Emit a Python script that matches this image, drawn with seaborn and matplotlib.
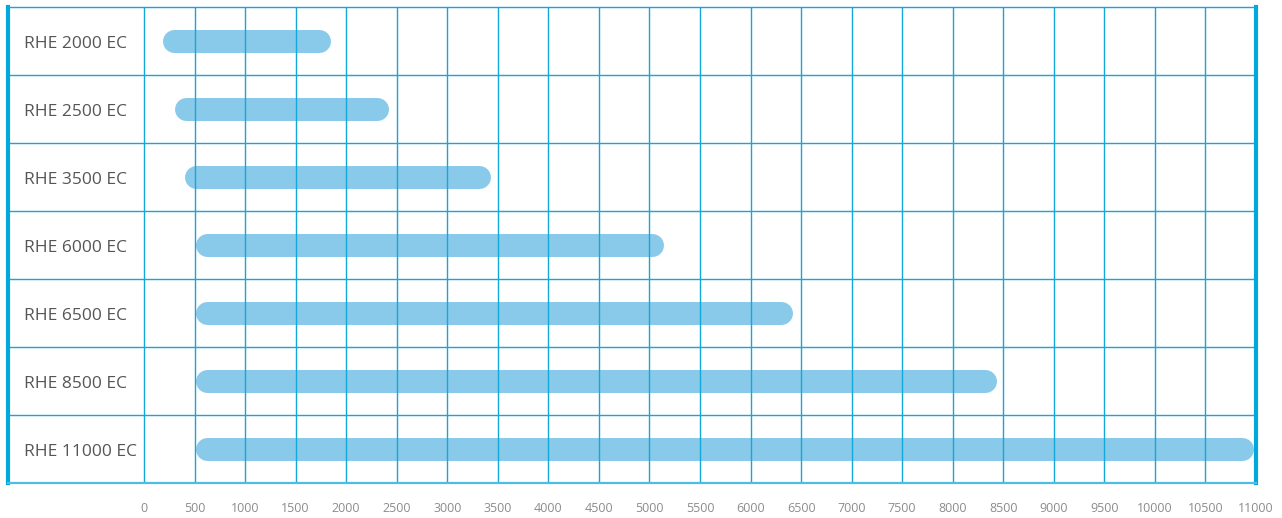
import matplotlib
matplotlib.use("Agg")
import matplotlib.pyplot as plt
import pandas as pd
import seaborn as sns

# ── data (airflow ranges per model) ────────────────────────────────────────
MODELS = ["RHE 2000 EC", "RHE 2500 EC", "RHE 3500 EC", "RHE 6000 EC",
          "RHE 6500 EC", "RHE 8500 EC", "RHE 11000 EC"]
FLOW_MIN = [180, 300, 400, 510, 510, 510, 510]
FLOW_MAX = [1850, 2420, 3430, 5140, 6420, 8430, 10980]
XTICKS = list(range(0, 11001, 500))

BAR_COLOR  = "#89c9e9"
GRID_COLOR = "#12a8d8"
EDGE_COLOR = "#00a8dc"
BAR_PX = 23          # bar thickness in pixels

sns.set_theme(style="white")
plt.rcParams["font.family"] = ["Open Sans", "DejaVu Sans"]

df = pd.DataFrame({"model": MODELS, "lo": FLOW_MIN, "hi": FLOW_MAX})
df["span"] = df["hi"] - df["lo"]

fig = plt.figure(figsize=(12.82, 5.18), dpi=100)
ax = fig.add_axes([8 / 1282, 1 - 483 / 518, 1248 / 1282, 476 / 518])

# seaborn sets up the categorical axis; bars are redrawn as pills below
sns.barplot(data=df, x="span", y="model", orient="h", color=BAR_COLOR,
            width=0.34, saturation=1, ax=ax)

ax.set_xlim(-1345, 11000)
ax.set_ylim(len(MODELS) - 0.5, -0.5)

# ── rounded bars: thick lines with round caps, inset by the cap radius ─────
fig.canvas.draw()
(x0, _), (x1, _) = ax.transData.transform([(0, 0), (1, 0)])
r = (BAR_PX / 2) / abs(x1 - x0)      # cap radius in data units
for bar in list(ax.patches):
    bar.remove()
lw_pt = BAR_PX * 72 / fig.dpi
for i, (lo, hi) in enumerate(zip(df["lo"], df["hi"])):
    ax.plot([lo + r, hi - r], [i, i], color=BAR_COLOR, lw=lw_pt,
            solid_capstyle="round", zorder=2)

# ── grid ───────────────────────────────────────────────────────────────────
ax.set_xticks(XTICKS)
ax.set_xticklabels([str(t) for t in XTICKS])
ax.grid(axis="x", color=GRID_COLOR, lw=1.0, zorder=3)
ax.set_axisbelow(False)
for i in range(len(MODELS) - 1):
    ax.axhline(i + 0.5, color=GRID_COLOR, lw=1.0, zorder=3)

for side in ("left", "right"):
    ax.spines[side].set_color(EDGE_COLOR)
    ax.spines[side].set_linewidth(3.0)
ax.spines["top"].set_color(GRID_COLOR)
ax.spines["top"].set_linewidth(1.0)
ax.spines["bottom"].set_color("#4dbde6")
ax.spines["bottom"].set_linewidth(1.6)
for s in ax.spines.values():
    s.set_zorder(4)

# ── labels ─────────────────────────────────────────────────────────────────
ax.set_xlabel(""); ax.set_ylabel("")
ax.set_yticks([])
ax.tick_params(axis="x", length=0, pad=14, labelsize=9, labelcolor="#8c8c8c")
for i, name in enumerate(MODELS):
    ax.text(-1190, i + 0.04, name, ha="left", va="center", fontsize=12.5,
            color="#555555", zorder=5)

plt.savefig("out.png", dpi=100)
plt.close()
